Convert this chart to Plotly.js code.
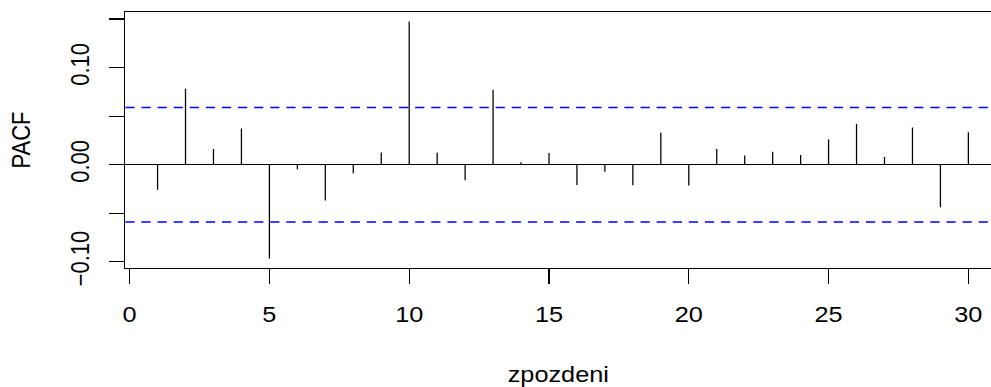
<!DOCTYPE html>
<html>
<head>
<meta charset="utf-8">
<script src="https://cdn.plot.ly/plotly-3.0.1.min.js"></script>
<style>
html,body{margin:0;padding:0;overflow:hidden;background:#fff;width:991px;height:387px;}
#chart{width:862px;height:387px;transform:scaleX(1.15);transform-origin:0 0;}
</style>
</head>
<body>
<div id="chart"></div>
<script>
// Data
const lags = [1,2,3,4,5,6,7,8,9,10,11,12,13,14,15,16,17,18,19,20,21,22,23,24,25,26,27,28,29,30];
const pacf = [-0.0259,0.0783,0.0161,0.0373,-0.0966,-0.0047,-0.0369,-0.0088,0.0127,0.1475,
              0.0123,-0.016,0.0772,0.0025,0.012,-0.0208,-0.0072,-0.0211,0.0328,-0.0215,
              0.0161,0.0096,0.0133,0.0099,0.0263,0.042,0.0079,0.0383,-0.0437,0.0335];
const ciBound = 0.0589;
const xTicks = [0,5,10,15,20,25,30];
const yTickVals = [-0.10,-0.05,0.00,0.05,0.10,0.15];
const yTickText = ['\u22120.10','','0.00','','0.10',''];
const xLabel = 'zpozdeni';
const yLabel = 'PACF';

const sx = [], sy = [];
lags.forEach((l,i) => { sx.push(l,l,null); sy.push(0,pacf[i],null); });

const traces = [{
  x: sx, y: sy, type: 'scatter', mode: 'lines',
  line: {color: '#000', width: 1.1}, hoverinfo: 'skip', showlegend: false
}];

const font = {family: '"Liberation Sans", Arial, Helvetica, sans-serif', size: 22, color: '#000'};

const layout = {
  width: 862, height: 387,
  margin: {l: 109, r: 0, t: 12, b: 119},
  paper_bgcolor: '#fff', plot_bgcolor: '#fff',
  font: font,
  showlegend: false,
  xaxis: {
    range: [-0.152, 30.82],
    tickvals: xTicks, ticktext: xTicks.map(String),
    ticks: 'outside', ticklen: 15, tickwidth: 1.0, tickcolor: '#000',
    showline: true, linecolor: '#000', linewidth: 1.2, mirror: true,
    showgrid: false, zeroline: false,
    ticklabelstandoff: 11,
    tickfont: font,
    title: {text: xLabel, font: font, standoff: 42}
  },
  yaxis: {
    range: [-0.1064, 0.1573],
    tickvals: yTickVals, ticktext: yTickText,
    ticks: 'outside', ticklen: 13, tickwidth: 1.2, tickcolor: '#000',
    showline: true, linecolor: '#000', linewidth: 1.1,
    showgrid: false,
    zeroline: true, zerolinecolor: '#000', zerolinewidth: 1.2,
    tickangle: -90,
    ticklabelstandoff: 9,
    tickfont: font,
    title: {text: yLabel, font: font, standoff: 24}
  },
  shapes: [ciBound, -ciBound].map(v => ({
    type: 'line', xref: 'paper', x0: 0, x1: 1, yref: 'y', y0: v, y1: v,
    line: {color: '#0000FF', width: 1.5, dash: '8px,6px'}
  }))
};

Plotly.newPlot('chart', traces, layout, {staticPlot: true, displayModeBar: false});
</script>
</body>
</html>
